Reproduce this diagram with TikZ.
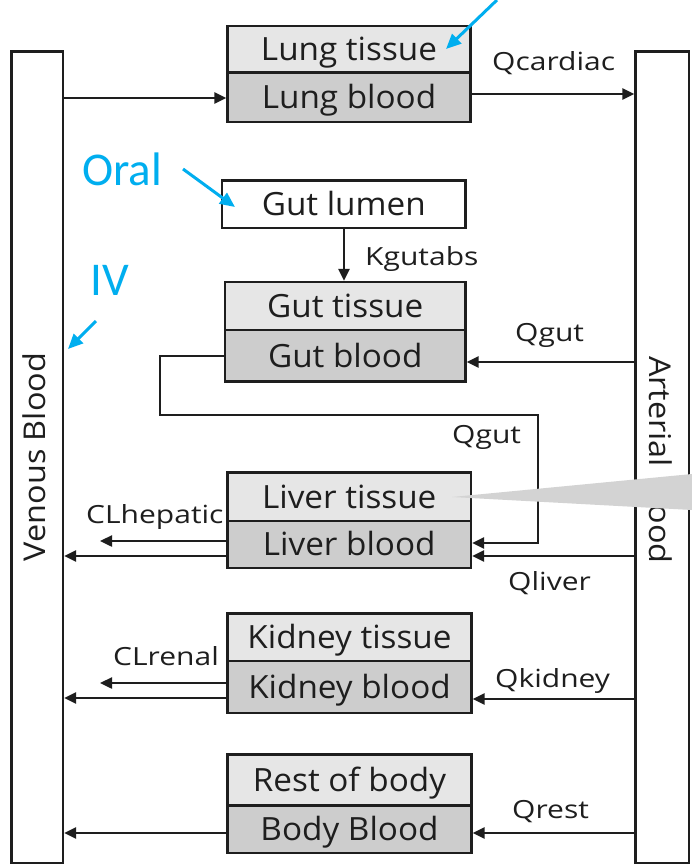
\documentclass[tikz,border=0pt]{standalone}
\usepackage{fontspec}
\usetikzlibrary{arrows.meta}
\newfontfamily\boxfont[FakeStretch=1.04]{Open Sans}
\newfontfamily\lblfont[FakeStretch=1.2]{Open Sans}
\newfontfamily\vertfont[FakeStretch=1.08]{Open Sans}
\newfontfamily\bluefont{Carlito}
\definecolor{tissuefill}{HTML}{E6E6E6}
\definecolor{bloodfill}{HTML}{CDCDCD}
\definecolor{annblue}{HTML}{00AEEF}
\definecolor{wedgegray}{HTML}{D3D3D3}
\definecolor{ink}{HTML}{1E1E1E}
\tikzset{
  comp/.style={draw=ink, line width=2.2pt, inner sep=0pt, text height=22.8pt, text depth=0pt,
    font=\boxfont\fontsize{32}{36}\selectfont, text=ink},
  tissue/.style={comp, fill=tissuefill},
  blood/.style={comp, fill=bloodfill},
  lumen/.style={comp, fill=white},
  pool/.style={draw=ink, line width=2.2pt, inner sep=0pt, fill=white},
  pooltext/.style={inner sep=0pt, text height=21.5pt, text depth=0pt,
    font=\vertfont\fontsize{30}{34}\selectfont, text=ink},
  lbl/.style={inner sep=0pt, anchor=base west, font=\lblfont\fontsize{25}{30}\selectfont, text=ink},
  arr/.style={draw=ink, line width=2.4pt, -{Triangle[length=12pt,width=11pt]}},
  bluearr/.style={draw=annblue, line width=3pt, -{Triangle[length=15pt,width=13pt]}},
  bluetxt/.style={inner sep=0pt, anchor=base west, text=annblue, font=\bluefont\fontsize{47}{52}\selectfont}
}
\begin{document}
\begin{tikzpicture}[x=1pt,y=-1pt]
\useasboundingbox (0,0) rectangle (692,865);
\fill[white] (0,0) rectangle (692,865);

% blood pools
\node[pool, minimum width=51.5pt, minimum height=811.5pt] (venous) at (37.25,457.25) {};
\node[pool, minimum width=53.5pt, minimum height=811.5pt] (arterial) at (662.25,457.25) {};
\node[pooltext, rotate=90] (venoustxt) at (35,457) {Venous Blood};
\node[pooltext, rotate=-90] (arterialtxt) at (660,460) {Arterial Blood};

% compartments
\node[tissue, minimum width=243pt, minimum height=46.5pt] (lungT) at (349,49.25) {Lung tissue};
\node[blood,  minimum width=243pt, minimum height=49.5pt] (lungB) at (349,97.25) {Lung blood};

\node[lumen, minimum width=243.5pt, minimum height=47.5pt] (lumen) at (343.75,204.25) {Gut lumen};

\node[tissue, minimum width=240.5pt, minimum height=48pt] (gutT) at (345.25,306) {Gut tissue};
\node[blood,  minimum width=240.5pt, minimum height=51.5pt] (gutB) at (345.25,355.75) {Gut blood};

\node[tissue, minimum width=243.5pt, minimum height=48.5pt] (livT) at (349.25,496.75) {Liver tissue};
\node[blood,  minimum width=243.5pt, minimum height=47pt] (livB) at (349.25,544.5) {Liver blood};

\node[tissue, minimum width=244pt, minimum height=47.5pt] (kidT) at (349.5,637.25) {Kidney tissue};
\node[blood,  minimum width=244pt, minimum height=52pt] (kidB) at (349.5,687) {Kidney blood};

\node[tissue, minimum width=244pt, minimum height=51pt] (restT) at (349.5,780) {Rest of body};
\node[blood,  minimum width=244pt, minimum height=47.5pt] (restB) at (349.5,829.25) {Body Blood};

% lung
\draw[arr] (venous.east |- 0,98) -- (lungB.west |- 0,98);
\draw[arr] (lungB.east |- 0,94) -- (arterial.west |- 0,94);
\node[lbl] (qcard) at (492,70) {Qcardiac};

% gut
\draw[arr] (lumen.south -| 344,0) -- (gutT.north -| 344,0);
\node[lbl] (kgut) at (365,265) {Kgutabs};
\draw[arr] (arterial.west |- 0,362) -- (gutB.east |- 0,362);
\node[lbl] (qgut1) at (515,341.5) {Qgut};
\coordinate (loopA) at (160,415);
\coordinate (loopB) at (538,415);
\draw[arr] (gutB.west |- 0,356) -| (loopA) -- (loopB) |- (livB.east |- 0,543);
\node[lbl] (qgut2) at (452,443) {Qgut};

% liver
\draw[arr] (arterial.west |- 0,556) -- (livB.east |- 0,556);
\node[lbl] (qliv) at (508,590) {Qliver};
\draw[arr] (livB.west |- 0,556) -- (venous.east |- 0,556);
\coordinate (clhEnd) at (100,541);
\draw[arr] (livB.west |- clhEnd) -- (clhEnd);
\node[lbl] (clh) at (86,523) {CLhepatic};

% kidney
\draw[arr] (arterial.west |- 0,699) -- (kidB.east |- 0,699);
\node[lbl] (qkid) at (495,687) {Qkidney};
\draw[arr] (kidB.west |- 0,698) -- (venous.east |- 0,698);
\coordinate (clrEnd) at (100,683);
\draw[arr] (kidB.west |- clrEnd) -- (clrEnd);
\node[lbl] (clr) at (113,665) {CLrenal};

% rest of body
\draw[arr] (arterial.west |- 0,833) -- (restB.east |- 0,833);
\node[lbl] (qrest) at (512,818) {Qrest};
\draw[arr] (restB.west |- 0,833) -- (venous.east |- 0,833);

% blue annotations
\coordinate (inhStart) at (497,0);
\coordinate (inhEnd) at (446,49);
\draw[bluearr] (inhStart) -- (inhEnd);
\node[bluetxt] (oral) at (82,185) {Oral};
\coordinate (oralStart) at (183,169);
\coordinate (oralEnd) at (235,207);
\draw[bluearr] (oralStart) -- (oralEnd);
\node[bluetxt] (iv) at (90,295) {IV};
\coordinate (ivStart) at (96,321);
\coordinate (ivEnd) at (68,349);
\draw[bluearr] (ivStart) -- (ivEnd);

% callout wedge
\coordinate (wedgeTip) at (452,497);
\fill[wedgegray] (wedgeTip) -- (692,474) -- (692,510) -- cycle;
\end{tikzpicture}
\end{document}
